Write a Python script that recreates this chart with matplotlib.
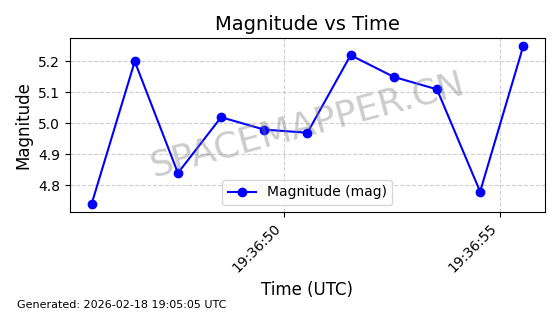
import matplotlib
matplotlib.use("Agg")
import matplotlib.pyplot as plt
import matplotlib.dates as mdates
import pandas as pd

# Data
times = pd.to_datetime([
    "2026-02-18 19:36:45.55", "2026-02-18 19:36:46.55", "2026-02-18 19:36:47.55",
    "2026-02-18 19:36:48.55", "2026-02-18 19:36:49.55", "2026-02-18 19:36:50.55",
    "2026-02-18 19:36:51.55", "2026-02-18 19:36:52.55", "2026-02-18 19:36:53.55",
    "2026-02-18 19:36:54.55", "2026-02-18 19:36:55.55",
])
mags = [4.74, 5.20, 4.84, 5.02, 4.98, 4.97, 5.22, 5.15, 5.11, 4.78, 5.25]

fig, ax = plt.subplots(figsize=(5.6, 3.14), dpi=100)
ax.plot(times, mags, marker='o', color='blue', label='Magnitude (mag)')

ax.set_title('Magnitude vs Time', fontsize=14)
ax.set_xlabel('Time (UTC)', fontsize=12)
ax.set_ylabel('Magnitude', fontsize=12)
ax.grid(True, linestyle='--', alpha=0.6)
ax.legend(loc='lower center')

ax.xaxis.set_major_locator(mdates.SecondLocator(bysecond=range(0, 60, 5)))
ax.xaxis.set_major_formatter(mdates.DateFormatter('%H:%M:%S'))
plt.setp(ax.get_xticklabels(), rotation=45, ha='right')

# watermark
ax.text(0.5, 0.5, 'SPACEMAPPER.CN', transform=ax.transAxes,
        fontsize=26, color='gray', alpha=0.4, rotation=15,
        ha='center', va='center')

fig.text(0.03, 0.02, 'Generated: 2026-02-18 19:05:05 UTC', fontsize=8)

plt.subplots_adjust(left=0.125, right=0.973, top=0.879, bottom=0.325)
plt.savefig('out.png')
